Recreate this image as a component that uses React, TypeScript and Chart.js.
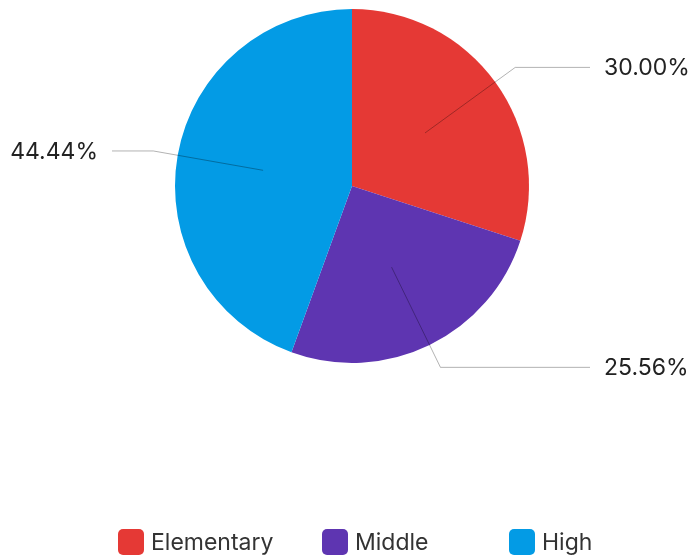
import React, { useEffect, useRef } from "react";
import { Chart, registerables } from "chart.js";

Chart.register(...registerables);

const categories = ["Elementary", "Middle", "High"];
const values = [27, 23, 40];
const colors = ["#E53935", "#5E35B1", "#039BE5"];

const FONT = "Inter, Roboto, 'Noto Sans', sans-serif";

const labelPlugin = {
  id: "leaderLabels",
  afterDatasetsDraw(chart: any) {
    const ctx = chart.ctx;
    const meta = chart.getDatasetMeta(0);
    const total = values.reduce((a, b) => a + b, 0);
    ctx.save();
    meta.data.forEach((arc: any, i: number) => {
      const { x, y, startAngle, endAngle, outerRadius } = arc.getProps(
        ["x", "y", "startAngle", "endAngle", "outerRadius"],
        true
      );
      const a = (startAngle + endAngle) / 2;
      const c = Math.cos(a);
      const s = Math.sin(a);
      const x1 = x + c * outerRadius * 0.51;
      const y1 = y + s * outerRadius * 0.51;
      const x2 = x + c * outerRadius * 1.14;
      const y2 = y + s * outerRadius * 1.14;
      const right = c >= 0;
      const x3 = right ? x + 238 : x - 240;
      ctx.strokeStyle = "rgba(0,0,0,0.3)";
      ctx.lineWidth = 1;
      ctx.beginPath();
      ctx.moveTo(x1, y1);
      ctx.lineTo(x2, y2);
      ctx.lineTo(x3, y2);
      ctx.stroke();
      const pct = ((values[i] / total) * 100).toFixed(2) + "%";
      ctx.fillStyle = "#222222";
      ctx.font = `23px ${FONT}`;
      ctx.textBaseline = "middle";
      ctx.textAlign = right ? "left" : "right";
      ctx.fillText(pct, right ? x + 252 : x - 254, y2 + 1);
    });
    ctx.restore();
  },
};

const legendX = [118, 322, 509];

const legendPlugin = {
  id: "customLegend",
  afterDraw(chart: any) {
    const ctx = chart.ctx;
    ctx.save();
    const yc = 542;
    const box = 26;
    categories.forEach((cat, i) => {
      const bx = legendX[i];
      ctx.fillStyle = colors[i];
      ctx.beginPath();
      (ctx as any).roundRect(bx, yc - box / 2, box, box, 5);
      ctx.fill();
      ctx.fillStyle = "#333333";
      ctx.font = `23px ${FONT}`;
      ctx.textBaseline = "middle";
      ctx.textAlign = "left";
      ctx.fillText(cat, bx + box + 7, yc + 1);
    });
    ctx.restore();
  },
};

export default function App() {
  const ref = useRef<HTMLCanvasElement>(null);
  useEffect(() => {
    document.body.style.margin = "0";
    const chart = new Chart(ref.current!, {
      type: "pie",
      data: {
        labels: categories,
        datasets: [
          {
            data: values,
            backgroundColor: colors,
            borderColor: "#ffffff",
            borderWidth: 0,
            radius: 177,
          } as any,
        ],
      },
      options: {
        animation: false,
        responsive: false,
        layout: { padding: { left: 11, right: 0, top: 0, bottom: 183 } },
        plugins: {
          legend: { display: false },
          tooltip: { enabled: false },
        },
      },
      plugins: [labelPlugin, legendPlugin],
    });
    return () => chart.destroy();
  }, []);
  return (
    <div style={{ width: 693, height: 555 }}>
      <canvas ref={ref} width={693} height={555} style={{ display: "block" }} />
    </div>
  );
}
